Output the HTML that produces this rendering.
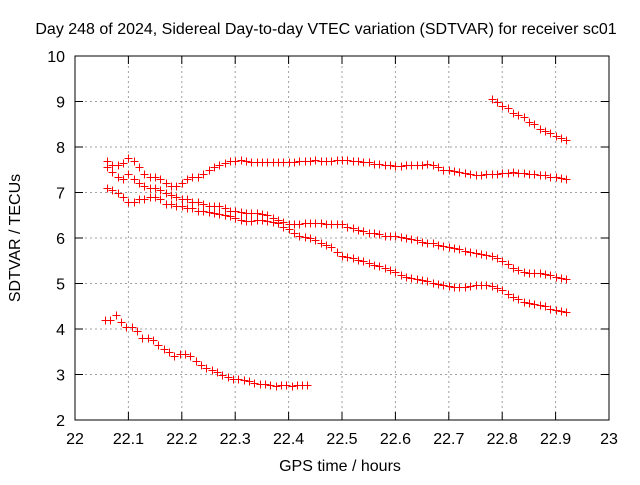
<!DOCTYPE html>
<html><head><meta charset="utf-8"><style>
body{margin:0;background:#fff}
svg text{font-family:"Liberation Sans",sans-serif;font-size:16px;fill:#000}
</style></head><body>
<svg width="640" height="480">
<g id="grid"></g>
<g id="axes"></g>
<g id="marks"></g>
<text x="326" y="34" text-anchor="middle">Day 248 of 2024, Sidereal Day-to-day VTEC variation (SDTVAR) for receiver sc01</text>
<text x="340" y="471" text-anchor="middle">GPS time / hours</text>
<text x="0" y="0" text-anchor="middle" transform="translate(20,238) rotate(-90)">SDTVAR / TECUs</text>
</svg>
<script>
const xTicks=[22,22.1,22.2,22.3,22.4,22.5,22.6,22.7,22.8,22.9,23];
const yTicks=[2,3,4,5,6,7,8,9,10];
const aX=[22.06,22.07,22.08,22.09,22.10,22.11,22.12,22.13,22.14,22.15,22.16,22.17,22.18,22.19,22.20,22.21,22.22,22.23,22.24,22.25,22.26,22.27,22.28,22.29,22.30,22.31,22.32,22.33,22.34,22.35,22.36,22.37,22.38,22.39,22.40,22.41,22.42,22.43,22.44,22.45,22.46,22.47,22.48,22.49,22.50,22.51,22.52,22.53,22.54,22.55,22.56,22.57,22.58,22.59,22.60,22.61,22.62,22.63,22.64,22.65,22.66,22.67,22.68,22.69,22.70,22.71,22.72,22.73,22.74,22.75,22.76,22.77,22.78,22.79,22.80,22.81,22.82,22.83,22.84,22.85,22.86,22.87,22.88,22.89,22.90,22.91,22.92];
const aY=[7.7,7.6,7.6,7.65,7.75,7.7,7.55,7.4,7.35,7.35,7.3,7.2,7.15,7.15,7.2,7.3,7.35,7.35,7.4,7.5,7.55,7.6,7.65,7.7,7.7,7.72,7.7,7.68,7.68,7.67,7.67,7.67,7.68,7.67,7.67,7.68,7.7,7.7,7.7,7.72,7.7,7.7,7.7,7.72,7.72,7.72,7.7,7.7,7.68,7.66,7.63,7.62,7.6,7.6,7.58,7.58,7.6,7.6,7.6,7.6,7.62,7.6,7.55,7.5,7.5,7.48,7.45,7.42,7.4,7.38,7.38,7.4,7.4,7.4,7.42,7.42,7.45,7.42,7.42,7.4,7.4,7.38,7.38,7.35,7.35,7.32,7.3];
const bX=aX;
const bY=[7.55,7.45,7.35,7.3,7.4,7.3,7.2,7.15,7.1,7.1,7.05,7.0,6.95,6.9,6.85,6.85,6.8,6.8,6.75,6.7,6.7,6.7,6.65,6.6,6.6,6.58,6.55,6.55,6.55,6.52,6.5,6.45,6.4,6.35,6.3,6.3,6.3,6.32,6.32,6.32,6.32,6.3,6.3,6.3,6.3,6.25,6.22,6.18,6.15,6.12,6.1,6.08,6.05,6.05,6.05,6.02,6.0,5.98,5.95,5.92,5.9,5.88,5.85,5.82,5.8,5.78,5.75,5.72,5.7,5.68,5.65,5.62,5.6,5.55,5.5,5.42,5.35,5.3,5.25,5.23,5.22,5.22,5.2,5.18,5.15,5.12,5.1];
const cX=aX;
const cY=[7.1,7.05,7.0,6.9,6.8,6.8,6.85,6.85,6.9,6.9,6.85,6.75,6.75,6.7,6.7,6.65,6.65,6.6,6.6,6.58,6.55,6.52,6.5,6.48,6.45,6.4,6.38,6.38,6.4,6.4,6.38,6.35,6.32,6.25,6.2,6.1,6.05,6.02,6.0,5.95,5.9,5.85,5.8,5.7,5.6,5.58,5.55,5.52,5.5,5.45,5.4,5.38,5.35,5.3,5.25,5.18,5.15,5.12,5.1,5.08,5.05,5.02,5.0,4.97,4.95,4.93,4.93,4.93,4.95,4.97,4.97,4.96,4.95,4.9,4.85,4.78,4.7,4.65,4.6,4.57,4.55,4.52,4.5,4.45,4.42,4.4,4.37];
const dX=[22.056,22.066,22.076,22.086,22.096,22.106,22.116,22.126,22.136,22.146,22.156,22.166,22.176,22.186,22.196,22.206,22.216,22.226,22.236,22.246,22.256,22.266,22.276,22.286,22.296,22.306,22.316,22.326,22.336,22.346,22.356,22.366,22.376,22.386,22.396,22.406,22.416,22.426,22.434];
const dY=[4.2,4.2,4.3,4.15,4.05,4.05,3.95,3.8,3.8,3.75,3.65,3.55,3.5,3.4,3.45,3.45,3.4,3.3,3.2,3.15,3.1,3.05,3.0,2.95,2.9,2.9,2.88,2.85,2.82,2.8,2.8,2.78,2.75,2.78,2.78,2.75,2.78,2.78,2.78];
const eX=[22.78,22.79,22.80,22.81,22.82,22.83,22.84,22.85,22.86,22.87,22.88,22.89,22.90,22.91,22.92];
const eY=[9.05,9.0,8.9,8.85,8.75,8.7,8.65,8.55,8.5,8.4,8.35,8.3,8.25,8.2,8.15];
const L=75,R=609,T=56,B=420;
const sx=v=>L+(v-22)*(R-L);
const sy=v=>B-(v-2)/8*(B-T);
const NS='http://www.w3.org/2000/svg';
function mk(p,t,a){const e=document.createElementNS(NS,t);for(const k in a)e.setAttribute(k,a[k]);p.appendChild(e);return e;}
const grid=document.getElementById('grid'),axes=document.getElementById('axes'),marks=document.getElementById('marks');
xTicks.forEach(v=>{const x=sx(v);
 if(v>22&&v<23){const g=mk(grid,'line',{x1:x,x2:x,y1:T,y2:B,stroke:'#a0a0a0','stroke-dasharray':'2,3'});
 
 }
 mk(axes,'line',{x1:x,x2:x,y1:B,y2:B-8,stroke:'#000'});mk(axes,'line',{x1:x,x2:x,y1:T,y2:T+8,stroke:'#000'});
 const t=mk(axes,'text',{x:x,y:B+24,'text-anchor':'middle'});t.textContent=String(v);
 
 });
yTicks.forEach(v=>{const y=sy(v);
 if(v>2&&v<10){const g=mk(grid,'line',{x1:L,x2:R,y1:y,y2:y,stroke:'#a0a0a0','stroke-dasharray':'2,3'});
 
 }
 mk(axes,'line',{x1:L,x2:L+8,y1:y,y2:y,stroke:'#000'});mk(axes,'line',{x1:R,x2:R-8,y1:y,y2:y,stroke:'#000'});
 const t=mk(axes,'text',{x:L-10,y:y+6,'text-anchor':'end'});t.textContent=String(v);
 
 });
mk(axes,'rect',{x:L,y:T,width:R-L,height:B-T,fill:'none',stroke:'#000'});
[[aX,aY],[bX,bY],[cX,cY],[dX,dY],[eX,eY]].forEach(([xs,ys])=>{
 xs.forEach((xv,i)=>{const x=Math.round(sx(xv))+0.5,y=Math.round(sy(ys[i]))+0.5;
  const p=mk(marks,'path',{d:`M${x-4},${y}H${x+4}M${x},${y-4}V${y+4}`,stroke:'#f00','stroke-width':1,fill:'none'});
  
  });});
</script>
</body></html>
